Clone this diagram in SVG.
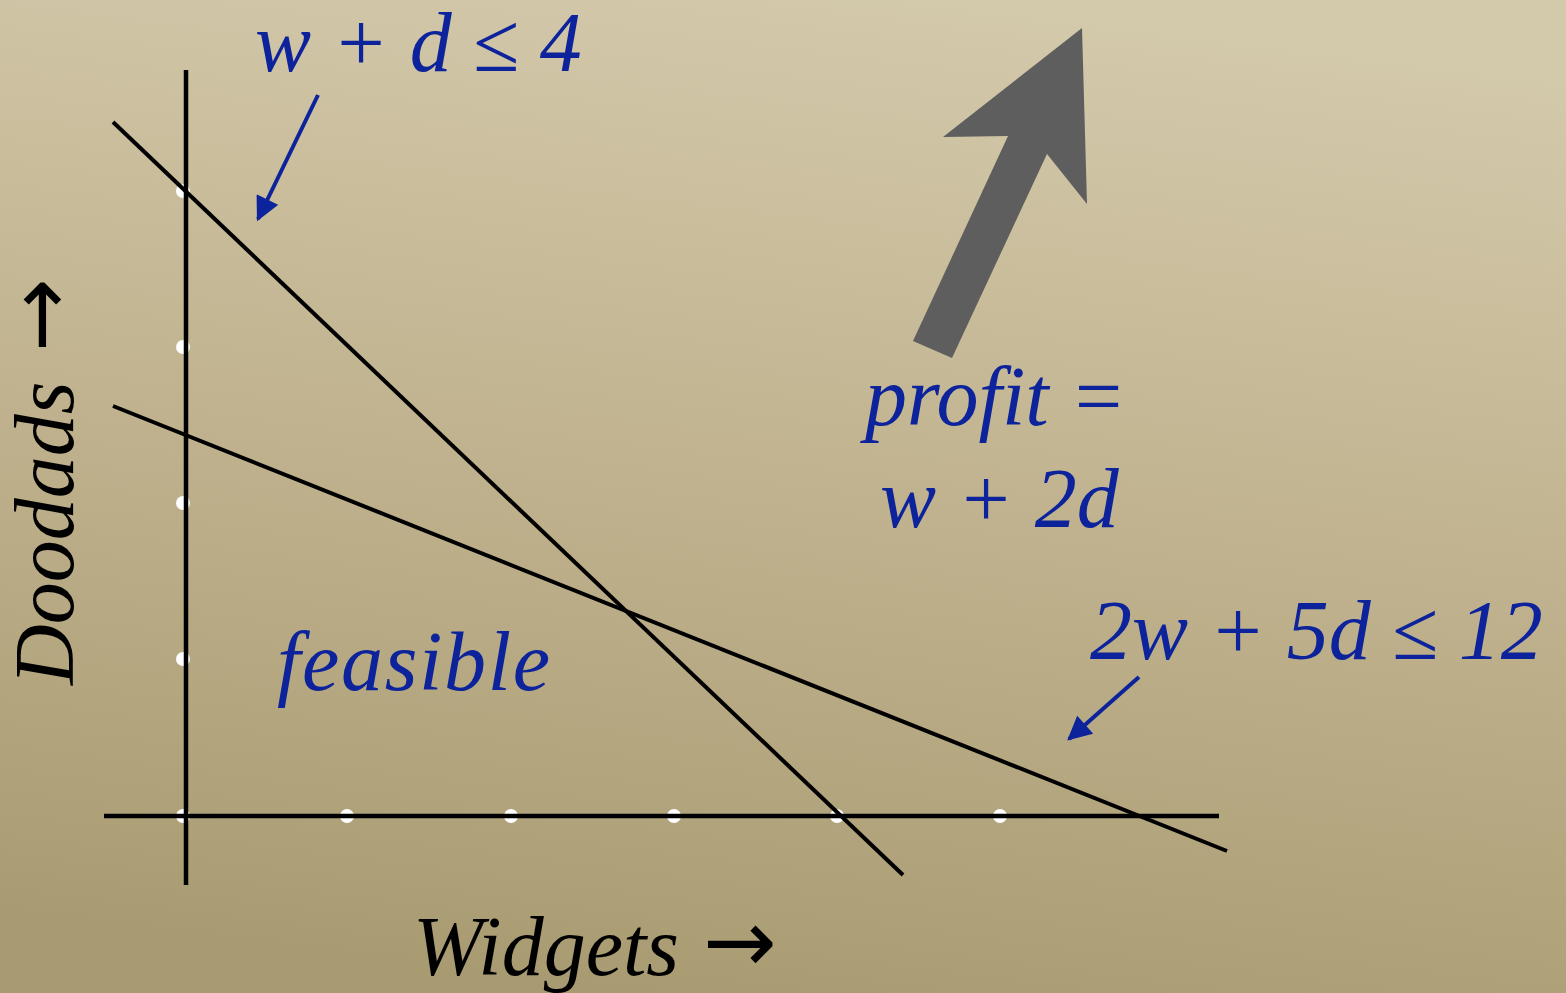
<svg xmlns="http://www.w3.org/2000/svg" width="1566" height="993" viewBox="0 0 1566 993">
  <defs>
    <linearGradient id="bg" x1="0.6" y1="0" x2="0.4" y2="1">
      <stop offset="0" stop-color="#d3c9ab"/>
      <stop offset="0.5" stop-color="#c0b28e"/>
      <stop offset="1" stop-color="#a99b71"/>
    </linearGradient>
    <marker id="bluehead" viewBox="0 0 10 10" refX="9" refY="5" markerWidth="6.5" markerHeight="6" orient="auto" markerUnits="strokeWidth">
      <path d="M0,0 L10,5 L0,10 Z" fill="#0d239b"/>
    </marker>
  </defs>
  <style>
    .blue { font-family: "Liberation Serif", "Times New Roman", serif; font-style: italic; font-size: 84px; fill: #0d239b; }
    .black { font-family: "Liberation Serif", "Times New Roman", serif; font-style: italic; font-size: 84px; fill: #000000; }
    .arr { font-family: "DejaVu Sans", sans-serif; font-style: normal; font-weight: normal; font-size: 88px; }
    .axis { stroke: #000; stroke-width: 4.5; fill: none; }
    .cline { stroke: #000; stroke-width: 4; fill: none; }
    .dot { fill: #ffffff; }
    .pointer { stroke: #0d239b; stroke-width: 4; fill: none; marker-end: url(#bluehead); }
  </style>
  <rect x="0" y="0" width="1566" height="993" fill="url(#bg)"/>

  <g id="grid-dots">
    <circle class="dot" cx="183" cy="191" r="7"/>
    <circle class="dot" cx="183" cy="347" r="7"/>
    <circle class="dot" cx="183" cy="503" r="7"/>
    <circle class="dot" cx="183" cy="659" r="7"/>
    <circle class="dot" cx="183" cy="816" r="7"/>
    <circle class="dot" cx="347" cy="816" r="7"/>
    <circle class="dot" cx="511" cy="816" r="7"/>
    <circle class="dot" cx="674" cy="816" r="7"/>
    <circle class="dot" cx="837" cy="816" r="7"/>
    <circle class="dot" cx="1000" cy="816" r="7"/>
  </g>

  <g id="axes">
    <line class="axis" x1="186" y1="70" x2="186" y2="885"/>
    <line class="axis" x1="104" y1="816" x2="1219" y2="816"/>
  </g>

  <g id="constraint-lines">
    <line class="cline" x1="113" y1="122" x2="903" y2="875"/>
    <line class="cline" x1="113" y1="406" x2="1227" y2="851"/>
  </g>

  <g id="connectors">
    <line class="pointer" x1="318" y1="95" x2="258" y2="219"/>
    <line class="pointer" x1="1139" y1="677" x2="1069" y2="739"/>
  </g>

  <g id="profit-arrow">
    <polygon fill="#5e5e5e" points="1082,28 1087,204 1047,154 952,358 913,341 1008,136 943,137"/>
  </g>

  <g id="label-c1"><text class="blue" x="255" y="71">w + d ≤ 4</text></g>
  <g id="label-c2"><text class="blue" x="1090" y="659">2w + 5d ≤ 12</text></g>
  <g id="label-profit">
    <text class="blue" x="865" y="425">profit =</text>
    <text class="blue" x="880" y="527">w + 2d</text>
  </g>
  <g id="label-feasible"><text class="blue" x="277" y="690" textLength="273">feasible</text></g>
  <g id="label-widgets"><text class="black" x="413" y="975">Widgets <tspan class="arr" x="703" y="972">→</tspan></text></g>
  <g id="label-doodads"><text class="black" transform="translate(73,685) rotate(-90)" x="0" y="0">Doodads <tspan class="arr" x="333" y="-3">→</tspan></text></g>
</svg>
